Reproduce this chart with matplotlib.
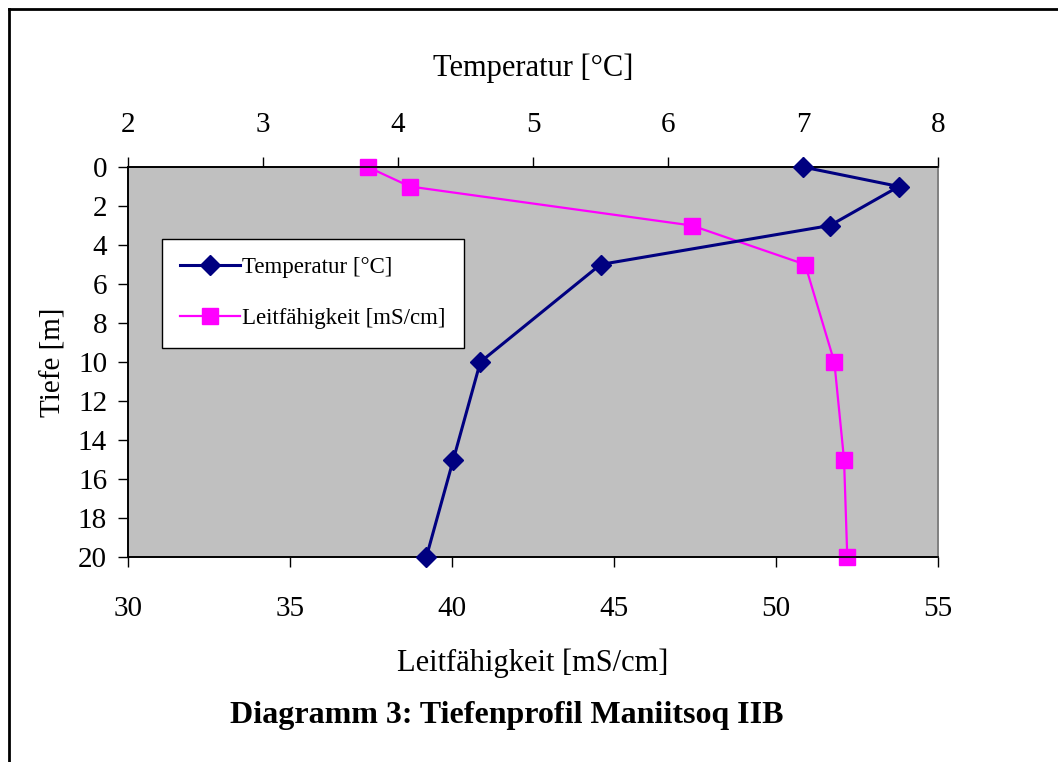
import numpy as np
import matplotlib.pyplot as plt
from matplotlib.lines import Line2D

plt.rcParams['font.family'] = ['Liberation Serif', 'DejaVu Serif']

# Daten
tiefe = [0, 1, 3, 5, 10, 15, 20]
temperatur = [7.0, 7.71, 7.2, 5.5, 4.61, 4.41, 4.21]
leitfaehigkeit = [37.4, 38.7, 47.4, 50.9, 51.8, 52.1, 52.2]

temp_ticks = [2, 3, 4, 5, 6, 7, 8]
leit_ticks = [30, 35, 40, 45, 50, 55]
tiefe_ticks = [0, 2, 4, 6, 8, 10, 12, 14, 16, 18, 20]

fig = plt.figure(figsize=(10.58, 7.62), dpi=100)
ax = fig.add_axes([128 / 1058, 1 - 557 / 762, 810 / 1058, 390 / 762])
ax.set_facecolor('#c0c0c0')

# Leitfähigkeit (untere Achse)
l2, = ax.plot(leitfaehigkeit, tiefe, color='#ff00ff', lw=1.6, marker='s',
              ms=11, mec='#ff00ff', mfc='#ff00ff', clip_on=False, zorder=3)
ax.set_xlim(30, 55)
ax.set_ylim(20, 0)
ax.set_xticks(leit_ticks)
ax.set_yticks(tiefe_ticks)
ax.tick_params(axis='both', direction='out', length=7, width=1, labelsize=21)
ax.tick_params(axis='x', pad=21)
ax.tick_params(axis='y', pad=8)
ax.set_xlabel('Leitfähigkeit [mS/cm]', fontsize=22, labelpad=19)
ax.set_ylabel('Tiefe [m]', fontsize=21, labelpad=8)

# Temperatur (obere Achse)
ax2 = ax.twiny()
l1, = ax2.plot(temperatur, tiefe, color='#000080', lw=2.2, marker='D',
               ms=10, mec='#000080', mfc='#000080', clip_on=False, zorder=3)
ax2.set_xlim(2, 8)
ax2.set_xticks(temp_ticks)
ax2.tick_params(axis='x', direction='out', length=7, width=1, labelsize=21, pad=14)
ax2.set_xlabel('Temperatur [°C]', fontsize=22, labelpad=26)

for a in (ax, ax2):
    for s in ('left', 'top', 'bottom'):
        a.spines[s].set_color('black')
        a.spines[s].set_linewidth(1.2)
    a.spines['right'].set_color('#808080')
    a.spines['right'].set_linewidth(1.2)

leg = ax2.legend([l1, l2], ['Temperatur [°C]', 'Leitfähigkeit [mS/cm]'],
                 loc='upper left', bbox_to_anchor=(34 / 810, 1 - 72 / 390),
                 fontsize=16.5, frameon=True, fancybox=False, edgecolor='black',
                 framealpha=1, borderpad=0.8, labelspacing=1.3,
                 handlelength=2.6, handletextpad=0.1, borderaxespad=0)
leg.get_frame().set_linewidth(1)

fig.text(507 / 1058, 1 - 716 / 762, 'Diagramm 3: Tiefenprofil Maniitsoq IIB',
         ha='center', va='center', fontsize=23, fontweight='bold')

# Rahmen um die Abbildung
fig.add_artist(Line2D([9 / 1058, 9 / 1058], [0, 1 - 9 / 762], color='black', lw=2,
                      transform=fig.transFigure))
fig.add_artist(Line2D([9 / 1058, 1], [1 - 9 / 762, 1 - 9 / 762], color='black', lw=2,
                      transform=fig.transFigure))

fig.savefig('out.png', dpi=100)
